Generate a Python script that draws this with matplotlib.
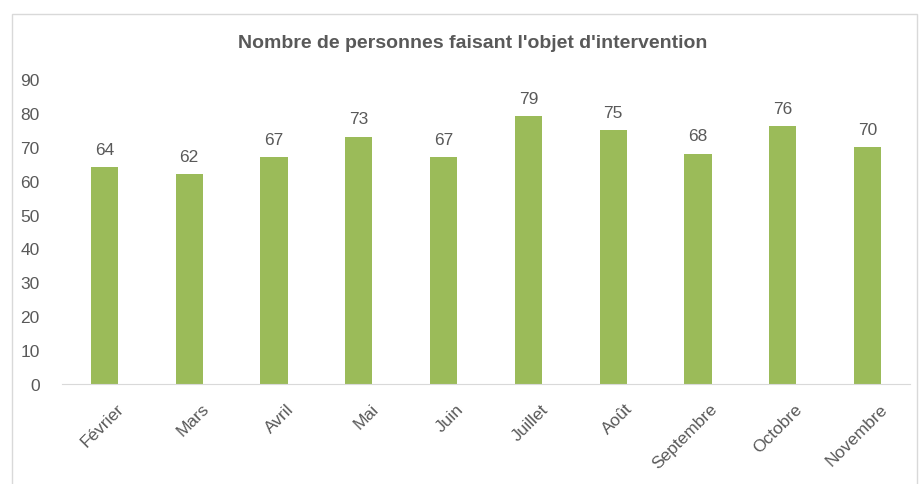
import matplotlib.pyplot as plt
import matplotlib.transforms as mtransforms
from matplotlib.patches import Rectangle

mois = ['Février', 'Mars', 'Avril', 'Mai', 'Juin', 'Juillet', 'Août',
        'Septembre', 'Octobre', 'Novembre']
personnes = [64, 62, 67, 73, 67, 79, 75, 68, 76, 70]
yticks = [0, 10, 20, 30, 40, 50, 60, 70, 80, 90]

plt.rcParams['font.family'] = ['Liberation Sans', 'DejaVu Sans']
gris = '#595959'
vert = '#9BBB59'

fig = plt.figure(figsize=(9.21, 4.85), dpi=100)
fig.patches.append(Rectangle((12 / 921, -0.1), 905 / 921, 1.1 - 15 / 485,
                             transform=fig.transFigure, fill=False,
                             edgecolor='#d9d9d9', linewidth=1))

ax = fig.add_axes([62 / 921, 1 - 385 / 485, 848 / 921, 305 / 485])
x = range(len(mois))
bars = ax.bar(x, personnes, width=0.32, color=vert)
for xi, v in zip(x, personnes):
    ax.text(xi, v + 3, str(v), ha='center', va='bottom', fontsize=12.5, color=gris)

ax.set_xlim(-0.5, len(mois) - 0.5)
ax.set_ylim(0, 90)
ax.set_yticks(yticks)
ax.set_xticks(list(x))
ax.set_xticklabels(mois, rotation=45, ha='right', rotation_mode='anchor')
ax.tick_params(axis='both', length=0, labelsize=12.5, colors=gris)
ax.tick_params(axis='y', pad=16)
ax.tick_params(axis='x', pad=12)
# decaler les etiquettes vers la droite comme dans Excel
decal = mtransforms.ScaledTranslation(12 / 100, 0, fig.dpi_scale_trans)
for lab in ax.get_xticklabels():
    lab.set_transform(lab.get_transform() + decal)
for s in ['top', 'right', 'left']:
    ax.spines[s].set_visible(False)
ax.spines['bottom'].set_color('#d9d9d9')

fig.text(473 / 921, 1 - 44 / 485, "Nombre de personnes faisant l'objet d'intervention",
         ha='center', va='center', fontsize=14, fontweight='bold', color=gris)

fig.savefig('out.png', dpi=100)
